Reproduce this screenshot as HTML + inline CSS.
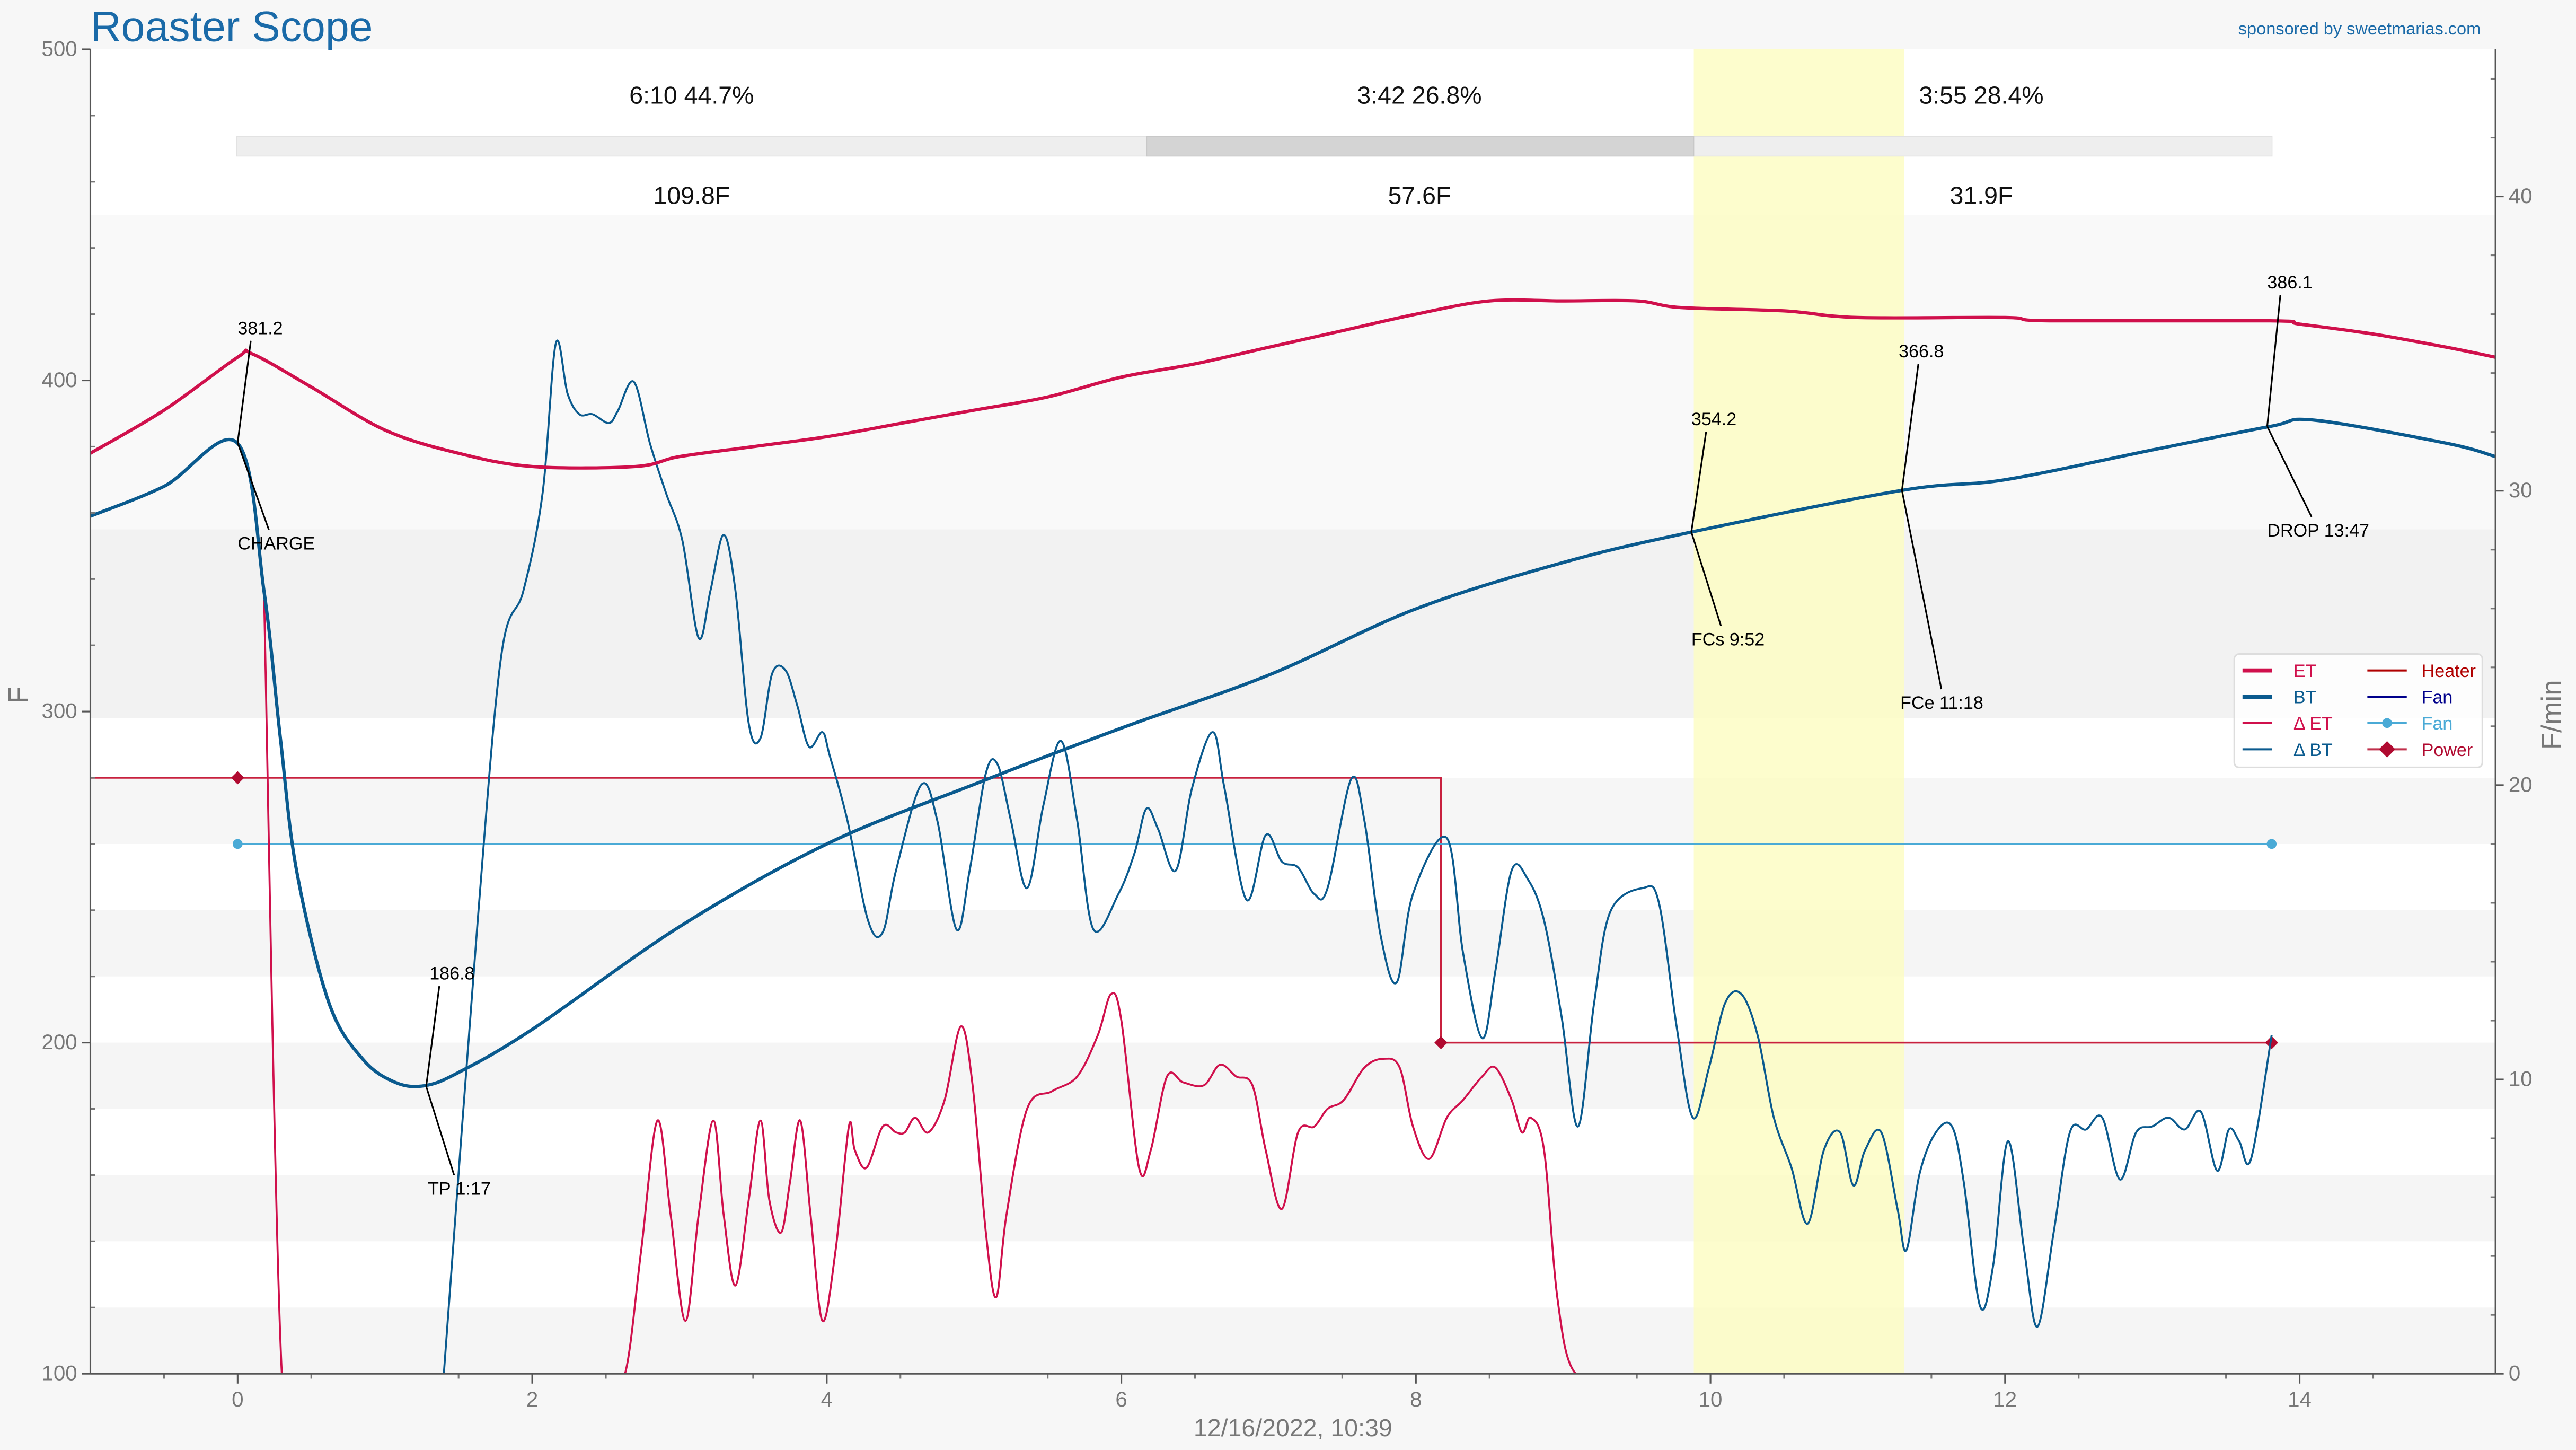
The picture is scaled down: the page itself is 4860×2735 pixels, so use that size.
<!DOCTYPE html>
<html><head><meta charset="utf-8"><style>
html,body{margin:0;padding:0;background:#f7f7f7;}
svg{display:block;font-family:"Liberation Sans",sans-serif;}
</style></head><body>
<svg id="chart" xmlns="http://www.w3.org/2000/svg" width="4860" height="2735" viewBox="0 0 1568 882.4">
<defs><clipPath id="plotclip"><rect x="55" y="30" width="1464" height="806"/></clipPath></defs>
<rect x="0" y="0" width="1568" height="882.4" fill="#f7f7f7"/>
<g id="bands"></g>
<rect x="1031" y="30" width="128" height="806" fill="#fdfdc0" opacity="0.8"/>
<g id="phasebar">
<rect x="144" y="83" width="1239" height="12" fill="#eeeeee" stroke="#e2e2e2" stroke-width="0.5"/>
<rect x="698" y="83" width="333" height="12" fill="#d4d4d4" stroke="#c8c8c8" stroke-width="0.5"/>
</g>
<g font-size="15" fill="#111" text-anchor="middle" style="white-space:pre">
<text x="421" y="63">6:10  44.7%</text>
<text x="864" y="63">3:42  26.8%</text>
<text x="1206" y="63">3:55  28.4%</text>
<text x="421" y="124">109.8F</text>
<text x="864" y="124">57.6F</text>
<text x="1206" y="124">31.9F</text>
</g>
<g id="marks" clip-path="url(#plotclip)"></g>
<g id="axes"></g>
<line x1="55" y1="30" x2="55" y2="836" stroke="#555" stroke-width="1"/>
<line x1="1519" y1="30" x2="1519" y2="836" stroke="#555" stroke-width="1"/>
<line x1="55" y1="836" x2="1519" y2="836" stroke="#555" stroke-width="1"/>
<text x="55" y="25" font-size="26" fill="#1a6aa8">Roaster Scope</text>
<text x="1510" y="21" font-size="10.5" fill="#1a6aa8" text-anchor="end">sponsored by sweetmarias.com</text>
<text x="787" y="874" font-size="15" fill="#777" text-anchor="middle">12/16/2022, 10:39</text>
<text x="17" y="423" font-size="17" fill="#777" text-anchor="middle" transform="rotate(-90 17 423)">F</text>
<text x="1559" y="435" font-size="17" fill="#777" text-anchor="middle" transform="rotate(-90 1559 435)">F/min</text>
<g>
<rect x="1360" y="398" width="151" height="69" rx="3" fill="#fff" fill-opacity="0.85" stroke="#ddd" stroke-width="1"/>
<g font-size="11">
<line x1="1365" y1="408" x2="1383" y2="408" stroke="#d0104c" stroke-width="2.5"/><text x="1396" y="412" fill="#d0104c">ET</text>
<line x1="1365" y1="424" x2="1383" y2="424" stroke="#0a5a8e" stroke-width="2.5"/><text x="1396" y="428" fill="#0a5a8e">BT</text>
<line x1="1365" y1="440" x2="1383" y2="440" stroke="#d0104c" stroke-width="1.3"/><text x="1396" y="444" fill="#d0104c">Δ ET</text>
<line x1="1365" y1="456" x2="1383" y2="456" stroke="#0a5a8e" stroke-width="1.3"/><text x="1396" y="460" fill="#0a5a8e">Δ BT</text>
<line x1="1441" y1="408" x2="1465" y2="408" stroke="#b00000" stroke-width="1.3"/><text x="1474" y="412" fill="#b00000">Heater</text>
<line x1="1441" y1="424" x2="1465" y2="424" stroke="#00008b" stroke-width="1.3"/><text x="1474" y="428" fill="#00008b">Fan</text>
<line x1="1441" y1="440" x2="1465" y2="440" stroke="#4aaad6" stroke-width="1.3"/><circle cx="1453" cy="440" r="3" fill="#4aaad6"/><text x="1474" y="444" fill="#4aaad6">Fan</text>
<line x1="1441" y1="456" x2="1465" y2="456" stroke="#c0304c" stroke-width="1.3"/><path d="M1453 451 L1458 456 L1453 461 L1448 456Z" fill="#b00a30"/><text x="1474" y="460" fill="#b00a30">Power</text>
</g></g>
</svg>
<script>
var xMin=-1, xMax=15.33, X0=55, X1=1519;
var yMin=100, yMax=500, Y0=836, Y1=30;
var rMin=0, rMax=45;
var xTicks=[0,2,4,6,8,10,12,14];
var yTicks=[100,200,300,400,500];
var rTicks=[0,10,20,30,40];
var etT=[-1,-0.5,0,0.1,0.5,1,1.5,2,2.7,3,3.5,4,4.5,5,5.5,6,6.5,7,7.5,8,8.5,9,9.5,9.8,10.5,11,12,12.3,13.8,14,14.5,15,15.33];
var etV=[378,391,407,408,398,385,378,374,374,377,380,383,387,391,395,401,405,410,415,420,424,424,424,422,421,419,419,418,418,417,414,410,407];
var btT=[-1,-0.5,0,0.18,0.29,0.4,0.62,0.85,1.07,1.27,1.5,2,3,4,5,6,7,8,9,9.87,11.3,12,13,13.8,14.1,15,15.33];
var btV=[359,368,381,336,292,252,212,195,188,187,191,204,235,260,278,295,311,331,345,354.2,366.8,370,379,386.1,388,381,377];
var dbtT=[1.40,1.63,1.79,1.94,2.07,2.16,2.24,2.32,2.41,2.52,2.58,2.69,2.80,2.91,3.02,3.13,3.21,3.30,3.38,3.47,3.55,3.63,3.72,3.80,3.88,3.97,4.02,4.14,4.28,4.38,4.47,4.64,4.75,4.88,4.97,5.08,5.16,5.25,5.36,5.47,5.59,5.70,5.81,5.98,6.09,6.17,6.25,6.37,6.48,6.62,6.70,6.85,6.98,7.09,7.20,7.31,7.40,7.56,7.65,7.76,7.87,7.98,8.21,8.32,8.45,8.54,8.65,8.76,8.87,8.99,9.10,9.21,9.32,9.54,9.65,9.77,9.88,9.99,10.10,10.21,10.32,10.43,10.55,10.66,10.77,10.88,10.97,11.05,11.16,11.27,11.33,11.42,11.53,11.64,11.72,11.83,11.92,12.02,12.13,12.22,12.33,12.44,12.55,12.66,12.78,12.89,13.00,13.11,13.22,13.33,13.44,13.52,13.59,13.67,13.81];
var dbtV=[0,15.4,24.4,26.6,29.9,35.0,33.3,32.6,32.6,32.3,32.7,33.7,31.6,29.9,28.3,25.0,26.6,28.5,26.6,22.1,21.6,23.8,23.9,22.7,21.3,21.8,21.0,18.8,15.4,15.0,17.1,20.0,18.8,15.1,17.1,20.4,20.7,18.8,16.5,19.3,21.5,18.8,15.1,16.3,17.7,19.2,18.5,17.1,19.9,21.8,19.9,16.1,18.3,17.4,17.2,16.3,16.5,20.2,18.8,14.9,13.3,16.3,18.2,14.3,11.4,13.7,17.1,16.8,15.4,12.1,8.4,12.6,15.7,16.5,16.0,11.8,8.7,10.4,12.6,12.9,11.5,8.7,7.0,5.1,7.6,8.2,6.4,7.6,8.2,5.6,4.2,6.8,8.2,8.4,6.5,2.3,3.7,7.9,4.2,1.6,4.8,8.2,8.3,8.7,6.6,8.2,8.4,8.7,8.3,8.9,6.9,8.3,7.9,7.3,11.5];
var detT=[0.18,0.30,0.45,0.8,1.2,1.6,2.0,2.3,2.5,2.63,2.74,2.85,2.94,3.04,3.13,3.23,3.30,3.38,3.47,3.55,3.61,3.69,3.75,3.82,3.89,3.97,4.06,4.15,4.19,4.27,4.38,4.47,4.53,4.60,4.69,4.80,4.91,4.99,5.08,5.15,5.22,5.36,5.53,5.70,5.84,5.93,6.00,6.12,6.20,6.31,6.42,6.56,6.67,6.78,6.89,6.98,7.09,7.20,7.31,7.40,7.51,7.65,7.78,7.89,7.98,8.09,8.21,8.32,8.45,8.54,8.65,8.72,8.78,8.87,8.96,9.07,9.3,9.54,10,11,12,13,13.81];
var detV=[26.3,0,0,0,0,0,0,0,0,0,4.2,8.6,5.4,1.8,5.4,8.6,5.4,3.0,5.9,8.6,5.9,4.8,6.5,8.6,5.4,1.8,4.2,8.4,7.6,7.0,8.4,8.2,8.2,8.7,8.2,9.3,11.8,9.8,4.8,2.6,5.4,9.0,9.6,10.1,11.5,12.9,12.0,7.0,7.6,10.1,9.9,9.8,10.5,10.1,9.8,7.6,5.6,8.2,8.4,9.0,9.3,10.4,10.7,10.4,8.4,7.3,8.7,9.3,10.1,10.4,9.3,8.2,8.7,7.6,2.6,0.1,0,0,0,0,0,0,0];
var heaterT=[-1,8.17,8.17,13.81];
var heaterV=[280,280,200,200];
var powerT=[0,8.17,13.81];
var powerV=[280,200,200];
var fanT=[0,13.81];
var fanV=[260,260];
var evT=[0,1.28,9.87,11.3,13.78];
var evV=[381.2,186.8,354.2,366.8,386.1];
var evVal=["381.2","186.8","354.2","366.8","386.1"];
var evName=["CHARGE","TP 1:17","FCs 9:52","FCe 11:18","DROP 13:47"];

function sx(t){return X0+(t-xMin)/(xMax-xMin)*(X1-X0);}
function sy(v){return Y0-(v-yMin)/(yMax-yMin)*(Y0-Y1);}
function sr(v){return Y0-(v-rMin)/(rMax-rMin)*(Y0-Y1);}
var NS="http://www.w3.org/2000/svg";
function mk(tag,attrs,parent){var e=document.createElementNS(NS,tag);for(var k in attrs)e.setAttribute(k,attrs[k]);parent.appendChild(e);return e;}
var bands=document.getElementById('bands'),marks=document.getElementById('marks'),axes=document.getElementById('axes');

var bg=mk('rect',{x:X0,y:Y1,width:X1-X0,height:Y0-Y1,fill:'#ffffff'},bands);


var bandTop=[450,355,280,240,200,160,120];
var bandBot=[355,298,260,220,180,140,100];
var bandCol=['#f9f9f9','#f2f2f2','#f6f6f6','#f5f5f5','#f5f5f5','#f5f5f5','#f5f5f5'];
for(var i=0;i<bandTop.length;i++){
  var b=mk('rect',{x:X0,y:sy(bandTop[i]),width:X1-X0,height:sy(bandBot[i])-sy(bandTop[i]),fill:bandCol[i]},bands);
  
  
}

function smooth(pts){
  var d='M'+pts[0][0].toFixed(2)+' '+pts[0][1].toFixed(2);
  for(var i=0;i<pts.length-1;i++){
    var p0=pts[i-1]||pts[i],p1=pts[i],p2=pts[i+1],p3=pts[i+2]||p2;
    var c1x=p1[0]+(p2[0]-p0[0])/6,c1y=p1[1]+(p2[1]-p0[1])/6;
    var c2x=p2[0]-(p3[0]-p1[0])/6,c2y=p2[1]-(p3[1]-p1[1])/6;
    d+=' C'+c1x.toFixed(2)+' '+c1y.toFixed(2)+' '+c2x.toFixed(2)+' '+c2y.toFixed(2)+' '+p2[0].toFixed(2)+' '+p2[1].toFixed(2);
  }
  return d;
}
function series(T,V,scale,color,w,name){
  var pts=[];for(var i=0;i<T.length;i++){pts.push([sx(T[i]),scale(V[i])]);}
  var p=mk('path',{d:smooth(pts),fill:'none',stroke:color,'stroke-width':w,'stroke-linejoin':'round'},marks);
  
  
}
function poly(T,V,color,w,name){
  var s='';for(var i=0;i<T.length;i++)s+=sx(T[i])+','+sy(V[i])+' ';
  var p=mk('polyline',{points:s,fill:'none',stroke:color,'stroke-width':w},marks);
  
  
}
poly(heaterT,heaterV,'#c8203e',1.1,'heater-line');
poly(fanT,fanV,'#4aaad6',1.1,'fan-line');
for(var i=0;i<fanT.length;i++){
  var c=mk('circle',{cx:sx(fanT[i]),cy:sy(fanV[i]),r:3,fill:'#4aaad6'},marks);
  
  
}
for(var i=0;i<powerT.length;i++){
  var x=sx(powerT[i]),y=sy(powerV[i]);
  var d=mk('path',{d:'M'+x+' '+(y-4)+' L'+(x+4)+' '+y+' L'+x+' '+(y+4)+' L'+(x-4)+' '+y+'Z',fill:'#b00a30'},marks);
  
  
}
series(detT,detV,sr,'#d0104c',1.2,'delta-et-line');
series(dbtT,dbtV,sr,'#0a5a8e',1.2,'delta-bt-line');
series(etT,etV,sy,'#d0104c',2,'et-line');
series(btT,btV,sy,'#0a5a8e',2,'bt-line');

var upDx=[8,8,9,10,8], upDy=[-62,-61,-61,-77,-80];
var dnDx=[19,17,18,24,27], dnDy=[53,54,57,121,55];
var valDx=[0,2,0,-2,0], nameDx=[0,1,0,-1,0];
for(var i=0;i<evT.length;i++){
  var x=sx(evT[i]),y=sy(evV[i]);
  var l1=mk('line',{x1:x,y1:y,x2:x+upDx[i],y2:y+upDy[i],stroke:'#000','stroke-width':1},marks);
  
  
  var l2=mk('line',{x1:x,y1:y,x2:x+dnDx[i],y2:y+dnDy[i],stroke:'#000','stroke-width':1},marks);
  
  
  var t1=mk('text',{x:x+valDx[i],y:y+upDy[i]-4,'font-size':11,fill:'#000'},marks);t1.textContent=evVal[i];
  
  
  var t2=mk('text',{x:x+nameDx[i],y:y+dnDy[i]+12,'font-size':11,fill:'#000'},marks);t2.textContent=evName[i];
  
  
}

for(var i=0;i<xTicks.length;i++){
  var x=sx(xTicks[i]);
  mk('line',{x1:x,y1:Y0,x2:x,y2:Y0+6,stroke:'#555'},axes);
  var t=mk('text',{x:x,y:Y0+20,'font-size':13,fill:'#777','text-anchor':'middle'},axes);t.textContent=xTicks[i];
  
  
}
for(var v=-0.5;v<=15;v+=1){var x=sx(v);if(x>X0)mk('line',{x1:x,y1:Y0,x2:x,y2:Y0+3,stroke:'#777'},axes);}
for(var i=0;i<yTicks.length;i++){
  var y=sy(yTicks[i]);
  mk('line',{x1:X0-5,y1:y,x2:X0,y2:y,stroke:'#555'},axes);
  var t=mk('text',{x:X0-8,y:y+4,'font-size':13,fill:'#777','text-anchor':'end'},axes);t.textContent=yTicks[i];
  
  
}
for(var v=120;v<500;v+=20){if(v%100){var y=sy(v);mk('line',{x1:X0,y1:y,x2:X0+3,y2:y,stroke:'#777'},axes);}}
for(var i=0;i<rTicks.length;i++){
  var y=sr(rTicks[i]);
  mk('line',{x1:X1,y1:y,x2:X1+5,y2:y,stroke:'#555'},axes);
  var t=mk('text',{x:X1+8,y:y+4,'font-size':13,fill:'#777'},axes);t.textContent=rTicks[i];
  
  
}
for(var v=2;v<45;v+=2){if(v%10){var y=sr(v);mk('line',{x1:X1-3,y1:y,x2:X1,y2:y,stroke:'#777'},axes);}}
</script>
</body></html>
